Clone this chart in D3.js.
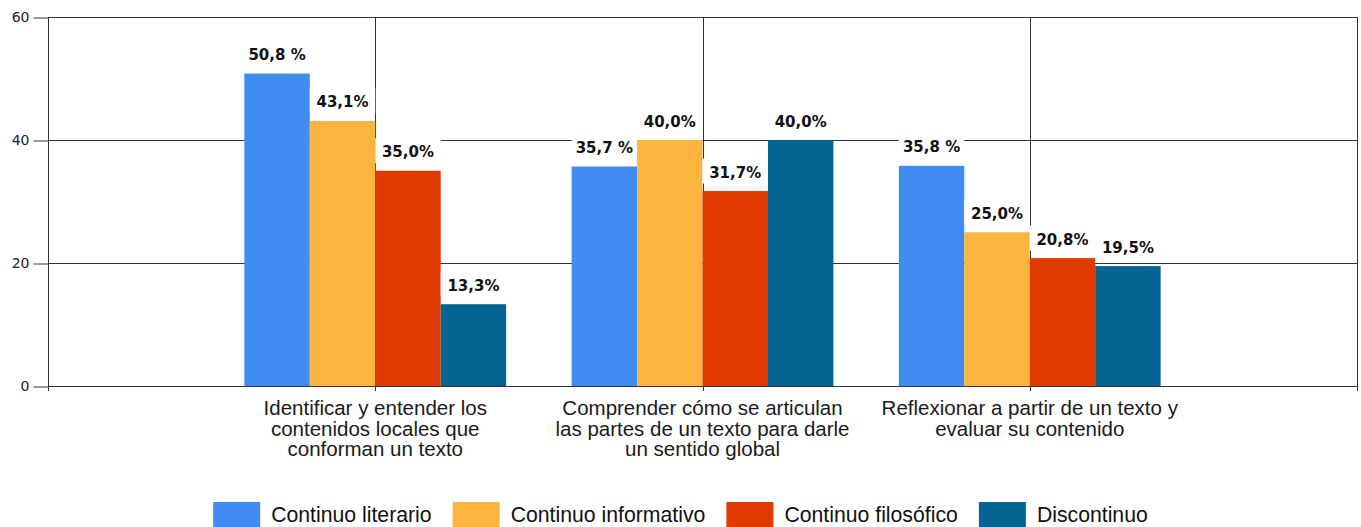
<!DOCTYPE html>
<html>
<head>
<meta charset="utf-8">
<script src="https://cdn.jsdelivr.net/npm/d3@7"></script>
<style>
  html, body { margin: 0; padding: 0; background: #fff; }
  svg { display: block; }
</style>
</head>
<body>
<svg id="chart" width="1361" height="527"></svg>
<script>
// datos
var categorias = [
  ["Identificar y entender los", "contenidos locales que", "conforman un texto"],
  ["Comprender cómo se articulan", "las partes de un texto para darle", "un sentido global"],
  ["Reflexionar a partir de un texto y", "evaluar su contenido"]
];
var series = ["Continuo literario", "Continuo informativo", "Continuo filosófico", "Discontinuo"];
var literario = [50.8, 35.7, 35.8];
var informativo = [43.1, 40.0, 25.0];
var filosofico = [35.0, 31.7, 20.8];
var discontinuo = [13.3, 40.0, 19.5];
var etiquetas = [
  ["50,8 %", "35,7 %", "35,8 %"],
  ["43,1%", "40,0%", "25,0%"],
  ["35,0%", "31,7%", "20,8%"],
  ["13,3%", "40,0%", "19,5%"]
];
var yTicks = [0, 20, 40, 60];
var colores = ["#418CF0", "#FCB441", "#DF3A02", "#056492"];

var valores = [literario, informativo, filosofico, discontinuo];

var svg = d3.select("#chart");
var mLeft = 48, mRight = 1357, mTop = 17, mBottom = 386;

var catIdx = categorias.map(function (d, i) { return i; });
var x = d3.scalePoint().domain(catIdx).range([mLeft, mRight]).padding(1);
var grupo = x.step() * 0.8;
var xs = d3.scaleBand().domain(series).range([-grupo / 2, grupo / 2]);
var y = d3.scaleLinear().domain([0, 60]).range([mBottom, mTop]);

var lineColor = "#333";

// lineas de cuadricula horizontales
svg.append("g").selectAll("line")
  .data(yTicks).enter().append("line")
  .attr("x1", mLeft).attr("x2", mRight)
  .attr("y1", function (d) { return Math.round(y(d)) + 0.5; })
  .attr("y2", function (d) { return Math.round(y(d)) + 0.5; })
  .attr("stroke", lineColor);

// lineas verticales
var vx = catIdx.map(function (d) { return x(d); }).concat([mRight]);
svg.append("g").selectAll("line")
  .data(vx).enter().append("line")
  .attr("x1", function (d) { return Math.round(d) + 0.5; })
  .attr("x2", function (d) { return Math.round(d) + 0.5; })
  .attr("y1", mTop).attr("y2", mBottom + 5)
  .attr("stroke", lineColor);

// eje y
var yAxis = d3.axisLeft(y).tickValues(yTicks).tickSize(15).tickSizeOuter(0).tickPadding(4);
var gy = svg.append("g").attr("transform", "translate(" + (mLeft + 0.5) + ",0.5)").call(yAxis);
gy.select(".domain").remove();
gy.selectAll(".tick line").attr("stroke", lineColor);
gy.selectAll(".tick text")
  .attr("font-family", "DejaVu Sans, sans-serif")
  .attr("font-size", 14)
  .attr("fill", "#222");
svg.append("line")
  .attr("x1", mLeft + 0.5).attr("x2", mLeft + 0.5)
  .attr("y1", mTop).attr("y2", mBottom + 5)
  .attr("stroke", lineColor);

// barras
var bars = svg.append("g");
valores.forEach(function (vals, s) {
  bars.selectAll(".b" + s)
    .data(vals).enter().append("rect")
    .attr("x", function (d, i) { return x(i) + xs(series[s]); })
    .attr("y", function (d) { return y(d); })
    .attr("width", xs.bandwidth())
    .attr("height", function (d) { return mBottom - y(d); })
    .attr("fill", colores[s]);
});

// etiquetas de valores
var labs = svg.append("g");
valores.forEach(function (vals, s) {
  vals.forEach(function (v, i) {
    var bx = x(i) + xs(series[s]);
    var base = y(v) - 13.5;
    labs.append("rect")
      .attr("x", bx)
      .attr("y", base - 19)
      .attr("width", xs.bandwidth())
      .attr("height", 25)
      .attr("fill", "#fff");
    labs.append("text")
      .attr("x", bx + xs.bandwidth() / 2)
      .attr("y", base)
      .attr("text-anchor", "middle")
      .attr("font-family", "DejaVu Sans, sans-serif")
      .attr("font-weight", "bold")
      .attr("font-size", 15)
      .attr("fill", "#111")
      .text(etiquetas[s][i]);
  });
});

// categorias
var cat = svg.append("g");
categorias.forEach(function (lineas, i) {
  var t = cat.append("text")
    .attr("x", x(i))
    .attr("y", 415)
    .attr("text-anchor", "middle")
    .attr("font-family", "Liberation Sans, Arial, sans-serif")
    .attr("font-size", 20.5)
    .attr("fill", "#1a1a1a");
  lineas.forEach(function (l, k) {
    t.append("tspan").attr("x", x(i)).attr("dy", k === 0 ? 0 : 20.5).text(l);
  });
});

// leyenda
var leg = svg.append("g");
var sw = 47, gap = 11, after = 21, sx = 0.965;
var items = series.map(function (s, i) {
  var t = leg.append("text")
    .attr("font-family", "Liberation Sans, Arial, sans-serif")
    .attr("font-size", 22)
    .attr("fill", "#111")
    .text(s);
  return { t: t, w: t.node().getComputedTextLength() * sx };
});
var total = d3.sum(items, function (d) { return d.w; }) + series.length * (sw + gap) + (series.length - 1) * after;
var lx = (1361 - total) / 2;
items.forEach(function (it, i) {
  leg.append("rect")
    .attr("x", lx).attr("y", 502)
    .attr("width", sw).attr("height", 27)
    .attr("fill", colores[i]);
  it.t.attr("transform", "translate(" + (lx + sw + gap) + ",522) scale(" + sx + ",1)");
  lx += sw + gap + it.w + after;
});
</script>
</body>
</html>
